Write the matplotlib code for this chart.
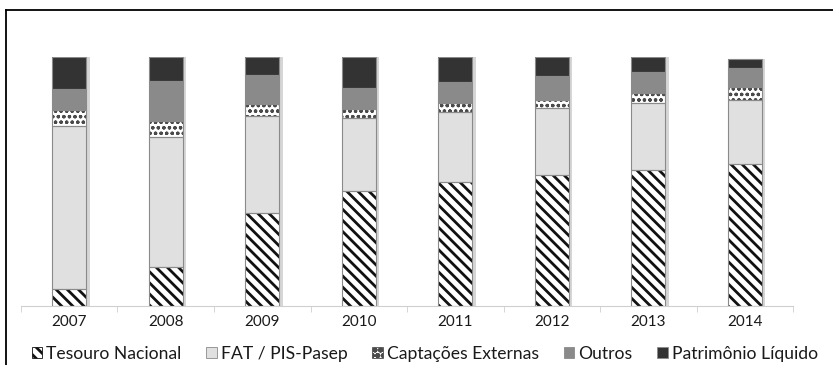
import numpy as np
import matplotlib.pyplot as plt
from matplotlib.patches import Patch
from matplotlib.lines import Line2D

plt.rcParams['font.family'] = ['Lato', 'DejaVu Sans']
plt.rcParams['hatch.linewidth'] = 2.0

anos = ['2007', '2008', '2009', '2010', '2011', '2012', '2013', '2014']
tesouro = [6.8, 15.4, 37.4, 46.2, 49.7, 52.5, 54.6, 56.9]
fat = [65.7, 52.7, 39.1, 29.2, 28.4, 27.2, 26.9, 25.9]
captacoes = [6.3, 6.4, 4.6, 3.8, 3.6, 3.1, 4.0, 5.4]
outros = [8.6, 16.1, 11.7, 8.6, 8.4, 9.8, 8.6, 7.5]
patrimonio = [12.6, 9.4, 7.2, 12.2, 9.9, 7.4, 5.9, 3.6]

# nome, valores, cor, hachura, cor da hachura, espessura da hachura
series = [
    ('Tesouro Nacional', tesouro, 'white', '\\\\\\', '#111111', 2.0),
    ('FAT / PIS-Pasep', fat, '#e0e0e0', None, '#8a8a8a', 1.0),
    ('Captações Externas', captacoes, 'white', 'ooo', '#4a4a4a', 0.9),
    ('Outros', outros, '#8a8a8a', None, '#8a8a8a', 1.0),
    ('Patrimônio Líquido', patrimonio, '#333333', None, '#8a8a8a', 1.0),
]

fig = plt.figure(figsize=(8.33, 3.65), dpi=100)
ax = fig.add_axes([0.0252, 0.1625, 0.9268, 0.6805])

x = np.arange(len(anos))
w = 0.35
totais = np.sum([s[1] for s in series], axis=0)

# sombra leve a direita das barras
ax.bar(x + 0.035, totais, w, color='#d6d6d6', edgecolor='none', zorder=1)

base = np.zeros(len(anos))
for nome, vals, cor, hatch, hcor, hlw in series:
    with plt.rc_context({'hatch.linewidth': hlw}):
        ax.bar(x, vals, w, bottom=base, color=cor, hatch=hatch,
               edgecolor=hcor, linewidth=0.0, zorder=2)
    ax.bar(x, vals, w, bottom=base, color='none', edgecolor='#8a8a8a',
           linewidth=0.8, zorder=3)
    base += np.array(vals)

ax.set_xlim(-0.5, len(anos) - 0.5)
ax.set_ylim(0, 100)
ax.set_yticks([])
ax.set_xticks(x)
ax.set_xticklabels(anos, fontsize=11, color='#1a1a1a')
ax.set_xticks(np.arange(-0.5, len(anos)), minor=True)
ax.tick_params(axis='x', which='major', length=0, pad=7)
ax.tick_params(axis='x', which='minor', length=4, color='#cfcfcf')
for s in ['top', 'right', 'left']:
    ax.spines[s].set_visible(False)
ax.spines['bottom'].set_color('#cfcfcf')

handles = []
for nome, vals, cor, hatch, hcor, hlw in series:
    with plt.rc_context({'hatch.linewidth': min(hlw, 1.2)}):
        handles.append(Patch(facecolor=cor, hatch=hatch, edgecolor=hcor,
                             linewidth=0.6, label=nome))
fig.legend(handles=handles, loc='center', bbox_to_anchor=(0.51, 0.031),
           ncol=5, frameon=False, fontsize=12.6, handlelength=0.6,
           handleheight=0.6, handletextpad=0.25, columnspacing=1.4,
           borderaxespad=0, labelcolor='#1a1a1a')

# moldura (esquerda e topo)
fig.add_artist(Line2D([6 / 833, 6 / 833], [0, 1 - 10 / 365], color='black', lw=1.3))
fig.add_artist(Line2D([6 / 833, 1], [1 - 10 / 365, 1 - 10 / 365], color='black', lw=1.3))

fig.savefig('out.png', dpi=100)
